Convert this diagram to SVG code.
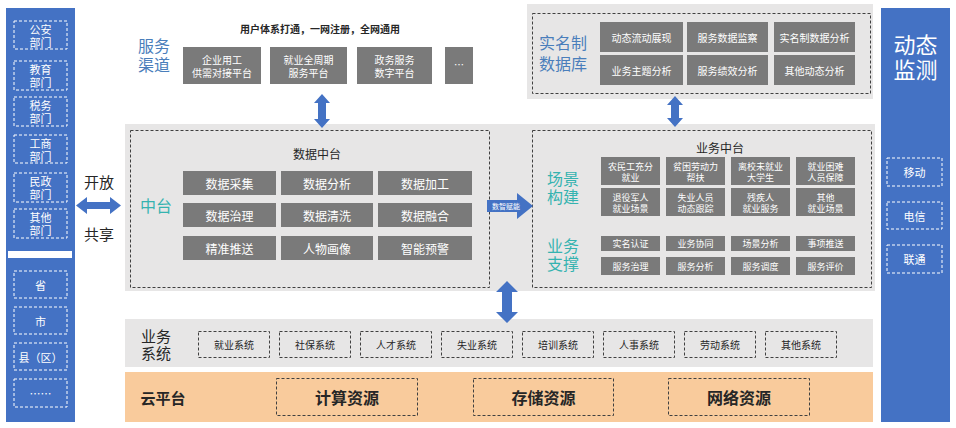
<svg xmlns="http://www.w3.org/2000/svg" width="956" height="428" viewBox="0 0 956 428">
<style>
text{font-family:"Noto Sans CJK SC","Noto Sans",sans-serif;text-anchor:middle;dominant-baseline:central}
tspan{dominant-baseline:central}
.blue{fill:#4472c4}
.wd{fill:none;stroke:#ffffff;stroke-width:1;stroke-dasharray:3,2}
.kd{fill:none;stroke:#404040;stroke-width:1;stroke-dasharray:3,2}
.gb{fill:#7a7a7a}
.lg{fill:#e7e6e6}
.wt{fill:#ffffff}
.t11{font-size:11px}
.t10{font-size:10px}
.t9{font-size:9px}
.t12{font-size:12px}
.bt{fill:#4a7ebb;font-size:16px}
.tt{fill:#35b3b0;font-size:16px}
.dk{fill:#262626}
.arr{fill:#4472c4}
</style>

<g id="left-column">
<rect x="6" y="8" width="69" height="414" class="blue"/>
<rect x="14" y="21" width="53" height="28" class="wd"/>
<text class="wt t11"><tspan x="40.5" y="29">公安</tspan><tspan x="40.5" y="42">部门</tspan></text>
<rect x="14" y="61" width="53" height="29" class="wd"/>
<text class="wt t11"><tspan x="40.5" y="69">教育</tspan><tspan x="40.5" y="82">部门</tspan></text>
<rect x="14" y="97" width="53" height="29" class="wd"/>
<text class="wt t11"><tspan x="40.5" y="105">税务</tspan><tspan x="40.5" y="118">部门</tspan></text>
<rect x="14" y="135" width="53" height="28" class="wd"/>
<text class="wt t11"><tspan x="40.5" y="143">工商</tspan><tspan x="40.5" y="156">部门</tspan></text>
<rect x="14" y="173" width="53" height="29" class="wd"/>
<text class="wt t11"><tspan x="40.5" y="181">民政</tspan><tspan x="40.5" y="194">部门</tspan></text>
<rect x="14" y="209" width="53" height="29" class="wd"/>
<text class="wt t11"><tspan x="40.5" y="217">其他</tspan><tspan x="40.5" y="230">部门</tspan></text>
<rect x="8" y="251" width="64" height="7" fill="#ffffff"/>
<rect x="14" y="271" width="53" height="27" class="wd"/>
<text x="40.5" y="284.5" class="wt t11">省</text>
<rect x="14" y="307" width="53" height="27" class="wd"/>
<text x="40.5" y="320.5" class="wt t11">市</text>
<rect x="14" y="343" width="53" height="27" class="wd"/>
<text x="40.5" y="356.5" class="wt t11">县（区）</text>
<rect x="14" y="379" width="53" height="28" class="wd"/>
<text x="40.5" y="393" class="wt t11">……</text>
</g>

<g id="open-share">
<text x="99" y="181" class="dk" style="font-size:15px">开放</text>
<text x="99" y="233" class="dk" style="font-size:15px">共享</text>
</g>

<g id="service-channel">
<text x="320" y="28" class="dk t10" style="font-weight:bold">用户体系打通，一网注册，全网通用</text>
<text class="bt"><tspan x="154" y="45">服务</tspan><tspan x="154" y="64">渠道</tspan></text>
<rect x="183" y="47" width="78" height="37" class="gb"/>
<text class="wt t10"><tspan x="222" y="59">企业用工</tspan><tspan x="222" y="72">供需对接平台</tspan></text>
<rect x="270" y="47" width="77" height="37" class="gb"/>
<text class="wt t10"><tspan x="308.5" y="59">就业全周期</tspan><tspan x="308.5" y="72">服务平台</tspan></text>
<rect x="357" y="47" width="75" height="37" class="gb"/>
<text class="wt t10"><tspan x="394.5" y="59">政务服务</tspan><tspan x="394.5" y="72">数字平台</tspan></text>
<rect x="445" y="47" width="28" height="37" class="gb"/>
<text x="459" y="64" class="wt t10">…</text>
</g>

<g id="realname-db">
<rect x="527" y="4" width="346" height="95" class="lg"/>
<rect x="532.5" y="13.5" width="338" height="80" class="kd"/>
<text class="bt"><tspan x="563" y="42">实名制</tspan><tspan x="563" y="63">数据库</tspan></text>
<rect x="600" y="22" width="83" height="30" class="gb"/><text x="641.5" y="37" class="wt t10">动态流动展现</text>
<rect x="687" y="22" width="81" height="30" class="gb"/><text x="727.5" y="37" class="wt t10">服务数据监察</text>
<rect x="774" y="22" width="81" height="30" class="gb"/><text x="814.5" y="37" class="wt t10">实名制数据分析</text>
<rect x="600" y="55" width="83" height="30" class="gb"/><text x="641.5" y="70" class="wt t10">业务主题分析</text>
<rect x="687" y="55" width="81" height="30" class="gb"/><text x="727.5" y="70" class="wt t10">服务绩效分析</text>
<rect x="774" y="55" width="81" height="30" class="gb"/><text x="814.5" y="70" class="wt t10">其他动态分析</text>
</g>

<g id="right-column">
<rect x="881" y="8" width="69" height="414" class="blue"/>
<text class="wt" style="font-size:22px"><tspan x="915.5" y="43">动态</tspan><tspan x="915.5" y="68">监测</tspan></text>
<rect x="887" y="158" width="55" height="28" class="wd"/><text x="914.5" y="172" class="wt t11">移动</text>
<rect x="887" y="202" width="55" height="27" class="wd"/><text x="914.5" y="215.5" class="wt t11">电信</text>
<rect x="887" y="245" width="55" height="28" class="wd"/><text x="914.5" y="259" class="wt t11">联通</text>
</g>

<rect x="125" y="124" width="750" height="167" class="lg"/>

<g id="data-platform">
<rect x="130.5" y="130.5" width="359" height="157" class="kd"/>
<text x="317" y="153" class="dk t12">数据中台</text>
<text x="156" y="205" class="tt">中台</text>
<rect x="183" y="171" width="93" height="24" class="gb"/><text x="229.5" y="183" class="wt t12">数据采集</text>
<rect x="281" y="171" width="92" height="24" class="gb"/><text x="327" y="183" class="wt t12">数据分析</text>
<rect x="378" y="171" width="94" height="24" class="gb"/><text x="425" y="183" class="wt t12">数据加工</text>
<rect x="183" y="203" width="93" height="24" class="gb"/><text x="229.5" y="215" class="wt t12">数据治理</text>
<rect x="281" y="203" width="92" height="24" class="gb"/><text x="327" y="215" class="wt t12">数据清洗</text>
<rect x="378" y="203" width="94" height="24" class="gb"/><text x="425" y="215" class="wt t12">数据融合</text>
<rect x="183" y="236" width="93" height="24" class="gb"/><text x="229.5" y="248" class="wt t12">精准推送</text>
<rect x="281" y="236" width="92" height="24" class="gb"/><text x="327" y="248" class="wt t12">人物画像</text>
<rect x="378" y="236" width="94" height="24" class="gb"/><text x="425" y="248" class="wt t12">智能预警</text>
</g>

<g id="business-platform">
<rect x="532.5" y="130.5" width="339" height="157" class="kd"/>
<text x="720" y="147" class="dk t12">业务中台</text>
<text class="tt"><tspan x="563" y="178">场景</tspan><tspan x="563" y="196">构建</tspan></text>
<text class="tt"><tspan x="563" y="245">业务</tspan><tspan x="563" y="263">支撑</tspan></text>
<rect x="601" y="157" width="59" height="28" class="gb"/><text class="wt t9"><tspan x="630.5" y="165.5">农民工充分</tspan><tspan x="630.5" y="176.5">就业</tspan></text>
<rect x="666" y="157" width="59" height="28" class="gb"/><text class="wt t9"><tspan x="695.5" y="165.5">贫困劳动力</tspan><tspan x="695.5" y="176.5">帮扶</tspan></text>
<rect x="731" y="157" width="59" height="28" class="gb"/><text class="wt t9"><tspan x="760.5" y="165.5">离校未就业</tspan><tspan x="760.5" y="176.5">大学生</tspan></text>
<rect x="796" y="157" width="59" height="28" class="gb"/><text class="wt t9"><tspan x="825.5" y="165.5">就业困难</tspan><tspan x="825.5" y="176.5">人员保障</tspan></text>
<rect x="601" y="188" width="59" height="28" class="gb"/><text class="wt t9"><tspan x="630.5" y="196.5">退役军人</tspan><tspan x="630.5" y="207.5">就业场景</tspan></text>
<rect x="666" y="188" width="59" height="28" class="gb"/><text class="wt t9"><tspan x="695.5" y="196.5">失业人员</tspan><tspan x="695.5" y="207.5">动态跟踪</tspan></text>
<rect x="731" y="188" width="59" height="28" class="gb"/><text class="wt t9"><tspan x="760.5" y="196.5">残疾人</tspan><tspan x="760.5" y="207.5">就业服务</tspan></text>
<rect x="796" y="188" width="59" height="28" class="gb"/><text class="wt t9"><tspan x="825.5" y="196.5">其他</tspan><tspan x="825.5" y="207.5">就业场景</tspan></text>
<rect x="601" y="236" width="59" height="15" class="gb"/><text x="630.5" y="243.5" class="wt t9">实名认证</text>
<rect x="666" y="236" width="59" height="15" class="gb"/><text x="695.5" y="243.5" class="wt t9">业务协同</text>
<rect x="731" y="236" width="59" height="15" class="gb"/><text x="760.5" y="243.5" class="wt t9">场景分析</text>
<rect x="796" y="236" width="59" height="15" class="gb"/><text x="825.5" y="243.5" class="wt t9">事项推送</text>
<rect x="601" y="257" width="59" height="18" class="gb"/><text x="630.5" y="266" class="wt t9">服务治理</text>
<rect x="666" y="257" width="59" height="18" class="gb"/><text x="695.5" y="266" class="wt t9">服务分析</text>
<rect x="731" y="257" width="59" height="18" class="gb"/><text x="760.5" y="266" class="wt t9">服务调度</text>
<rect x="796" y="257" width="59" height="18" class="gb"/><text x="825.5" y="266" class="wt t9">服务评价</text>
</g>

<g id="business-systems">
<rect x="125" y="319" width="748" height="48" class="lg"/>
<text class="dk" style="font-size:15px"><tspan x="156" y="335">业务</tspan><tspan x="156" y="352">系统</tspan></text>
<rect x="198.5" y="331.5" width="71" height="26" class="kd"/><text x="234" y="344.5" class="dk t10">就业系统</text>
<rect x="279.5" y="331.5" width="71" height="26" class="kd"/><text x="315" y="344.5" class="dk t10">社保系统</text>
<rect x="360.5" y="331.5" width="71" height="26" class="kd"/><text x="396" y="344.5" class="dk t10">人才系统</text>
<rect x="441.5" y="331.5" width="71" height="26" class="kd"/><text x="477" y="344.5" class="dk t10">失业系统</text>
<rect x="522.5" y="331.5" width="71" height="26" class="kd"/><text x="558" y="344.5" class="dk t10">培训系统</text>
<rect x="603.5" y="331.5" width="71" height="26" class="kd"/><text x="639" y="344.5" class="dk t10">人事系统</text>
<rect x="684.5" y="331.5" width="71" height="26" class="kd"/><text x="720" y="344.5" class="dk t10">劳动系统</text>
<rect x="765.5" y="331.5" width="71" height="26" class="kd"/><text x="801" y="344.5" class="dk t10">其他系统</text>
</g>

<g id="cloud-platform">
<rect x="125" y="372" width="748" height="50" fill="#f9cb9c"/>
<text x="163" y="397" class="dk" style="font-size:15px;font-weight:bold">云平台</text>
<rect x="276.5" y="378.5" width="141" height="37" class="kd"/><text x="347" y="397" class="dk" style="font-size:16px;font-weight:bold">计算资源</text>
<rect x="473.5" y="378.5" width="140" height="37" class="kd"/><text x="543.5" y="397" class="dk" style="font-size:16px;font-weight:bold">存储资源</text>
<rect x="668.5" y="378.5" width="141" height="37" class="kd"/><text x="739" y="397" class="dk" style="font-size:16px;font-weight:bold">网络资源</text>
</g>

<g id="connectors">
<polygon class="arr" points="76,205.5 87,197 87,202 110,202 110,197 121,205.5 110,214 110,209 87,209 87,214"/>
<polygon class="arr" points="322,94 330,103 326,103 326,119 330,119 322,128 314,119 318,119 318,103 314,103"/>
<polygon class="arr" points="675,96 683,105 679,105 679,118 683,118 675,127 667,118 671,118 671,105 667,105"/>
<polygon class="arr" points="507,281 518,292 512,292 512,312 518,312 507,323 496,312 502,312 502,292 496,292"/>
<polygon class="arr" points="487,200 517,200 517,193 533,206 517,219 517,212 487,212"/>
<text x="506" y="206" class="wt" style="font-size:7px">数智赋能</text>
</g>
</svg>
